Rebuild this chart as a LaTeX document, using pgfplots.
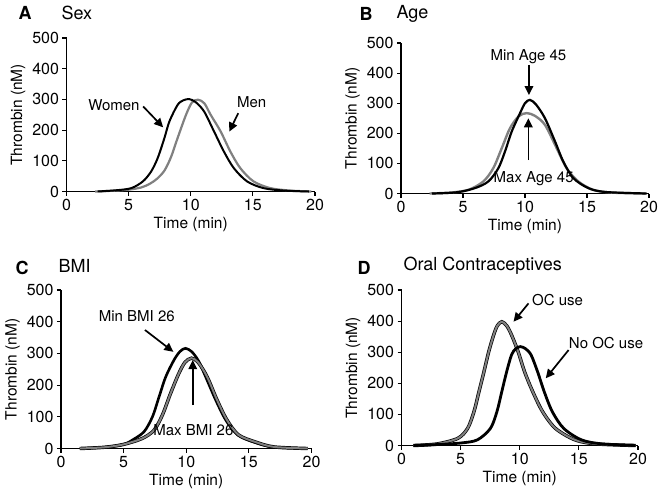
\documentclass[border=0pt]{standalone}
\usepackage{fontspec}
\setmainfont{TeX Gyre Heros}
\usepackage{pgfplots}
\pgfplotsset{compat=1.18}
\usepackage{pgfplotstable}
\usetikzlibrary{arrows.meta}
\definecolor{curvegray}{gray}{0.5}

% A: Sex
\pgfplotstableread{
t y
2.5 0
4 4
5.22 11
6.15 33
6.81 65
7.34 109
7.88 174
8.28 228
8.94 282
9.4 297
9.88 301
10.4 291
11.07 261
11.87 196
12.67 130
13.47 76
14.53 33
15.85 11
17.5 3
19.5 0
}\women
\pgfplotstableread{
t y
2.3 0
4 3
5.0 6
6.0 13
6.7 25
7.3 42
7.88 68
8.41 112
8.94 174
9.62 250
10.1 290
10.59 299
11.1 287
11.6 250
12.4 196
13.19 130
13.99 76
15.05 33
16.4 11
18 3
19.7 0
}\men
% B: Age
\pgfplotstableread{
t y
2.5 0
4.5 4
5.97 18
7.04 40
7.85 84
8.39 140
8.93 206
9.6 267
10.0 300
10.4 311
10.9 295
11.61 250
12.42 173
13.09 106
13.9 51
15.1 18
16.5 5
19.8 0
}\agemin
\pgfplotstableread{
t y
2.3 0
4 3
5.43 12
6.64 40
7.44 84
8.12 150
8.79 217
9.5 257
10.14 267
10.8 258
11.61 228
12.56 150
13.36 84
14.3 40
15.5 12
17 3
19.7 0
}\agemax
% C: BMI
\pgfplotstableread{
t y
1.5 0
3.5 4
5 13
5.71 27
6.63 53
7.3 100
7.83 163
8.36 226
9.02 279
9.5 306
9.94 316
10.45 305
11.0 275
11.55 226
12.35 153
13.15 90
14.1 43
15.4 20
17 4
19.7 0
}\bmimin
\pgfplotstableread{
t y
1.5 0
3.5 4
5 13
6.5 32
7.43 58
8.1 106
8.75 174
9.41 237
9.9 272
10.42 285
10.95 272
11.67 226
12.46 153
13.25 90
14.17 43
15.5 21
17 5
19.7 0
}\bmimax
% D: Oral contraceptives
\pgfplotstableread{
t y
1 0
3 5
4.76 23
5.59 55
6.13 109
6.55 173
6.97 237
7.38 302
7.79 355
8.1 385
8.48 398
8.9 385
9.31 355
9.86 302
10.41 237
11.1 173
11.93 109
13.02 55
14.68 18
16.5 5
19.8 0
}\ocuse
\pgfplotstableread{
t y
1 0
3 3
5 8
6.41 18
7.52 55
8.07 109
8.48 173
8.89 237
9.3 291
9.65 311
10.05 318
10.5 311
10.96 291
11.51 237
12.07 173
12.75 109
13.72 55
15.23 18
17 5
19.8 0
}\noocuse

\pgfplotsset{
  tgstyle/.style={
    scale only axis, anchor=south west,
    xmin=0, xmax=20, ymin=0, ymax=500,
    xtick={0,5,...,20}, ytick={0,100,...,500},
    axis x line*=bottom, axis y line*=left,
    axis line style={line width=1.6pt},
    tick align=outside, major tick length=4pt,
    every tick/.style={black, line width=1.2pt},
    tick label style={font=\fontsize{16}{16}\selectfont},
    label style={font=\fontsize{15.5}{15.5}\selectfont},
    /pgf/number format/assume math mode=true,
    xlabel={Time (min)}, ylabel={Thrombin (nM)},
    clip=false,
    every axis plot/.append style={smooth, no marks},
  },
}
\tikzset{
  annarrow/.style={-{Triangle[length=9pt,width=8.5pt]}, line width=1.7pt, black},
  anntext/.style={font=\fontsize{15}{15}\selectfont},
  ttl/.style={font=\fontsize{18}{18}\selectfont, anchor=west},
  lettr/.style={font=\fontsize{18}{18}\selectfont\bfseries},
}

\begin{document}
\begin{tikzpicture}
\useasboundingbox (0,0) rectangle (663pt,499pt);

% Panel A
\begin{axis}[tgstyle, at={(66.5pt,307.5pt)}, width=248.5pt, height=153.5pt]
\addplot[curvegray, line width=2.2pt] table {\men};
\addplot[black, line width=2pt] table {\women};
\node[anntext] at (axis cs:3.82,282) {Women};
\draw[annarrow] (axis cs:6.17,277) -- (axis cs:7.78,209);
\node[anntext] at (axis cs:14.9,290) {Men};
\draw[annarrow] (axis cs:13.82,255) -- (axis cs:13.1,195);
\end{axis}

% Panel B
\begin{axis}[tgstyle, at={(401pt,305.5pt)}, width=248pt, height=150.5pt]
\addplot[curvegray, line width=2.4pt] table {\agemax};
\addplot[black, line width=2.2pt] table {\agemin};
\node[anntext] at (axis cs:10.28,455) {Min Age 45};
\draw[annarrow] (axis cs:10.32,427) -- (axis cs:10.32,327);
\node[anntext] at (axis cs:10.7,50) {Max Age 45};
\draw[annarrow] (axis cs:10.27,111) -- (axis cs:10.27,250);
\end{axis}

% Panel C
\begin{axis}[tgstyle, at={(61pt,50.5pt)}, width=250.5pt, height=158.5pt]
\addplot[black, line width=2.6pt] table {\bmimin};
\addplot[black, line width=3.4pt] table {\bmimax};
\addplot[curvegray, line width=2pt] table {\bmimax};
\node[anntext] at (axis cs:6.05,418) {Min BMI 26};
\draw[annarrow] (axis cs:6.7,374) -- (axis cs:8.97,305);
\node[anntext] at (axis cs:10.57,58) {Max BMI 26};
\draw[annarrow] (axis cs:10.52,137) -- (axis cs:10.52,279);
\end{axis}

% Panel D
\begin{axis}[tgstyle, at={(401.5pt,53.5pt)}, width=236.5pt, height=155.5pt]
\addplot[black, line width=3.4pt] table {\ocuse};
\addplot[curvegray, line width=2pt] table {\ocuse};
\addplot[black, line width=2.8pt] table {\noocuse};
\node[anntext] at (axis cs:13.2,468) {OC use};
\draw[annarrow] (axis cs:10.74,457) -- (axis cs:9.47,398);
\node[anntext] at (axis cs:17.3,331) {No OC use};
\draw[annarrow] (axis cs:14.13,307) -- (axis cs:12.2,216);
\end{axis}

% panel letters and titles
\node[lettr] at (25pt,486pt) {A};
\node[ttl] at (58pt,486pt) {Sex};
\node[lettr] at (366pt,485pt) {B};
\node[ttl] at (393pt,485pt) {Age};
\node[lettr] at (22pt,231pt) {C};
\node[ttl] at (55pt,233pt) {BMI};
\node[lettr] at (364pt,231pt) {D};
\node[ttl] at (400pt,233pt) {Oral Contraceptives};
\end{tikzpicture}
\end{document}
